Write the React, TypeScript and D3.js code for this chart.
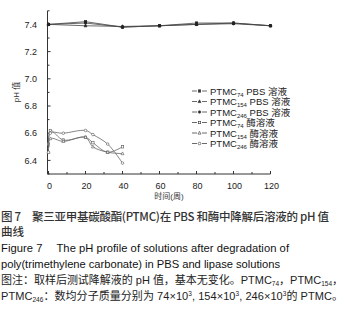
import React from "react";
import * as d3 from "d3";

const pbsWeeks = [0, 20, 40, 60, 80, 100, 120];
const pbs74 = [7.4, 7.42, 7.38, 7.39, 7.41, 7.41, 7.39];
const pbs154 = [7.4, 7.39, 7.385, 7.39, 7.4, 7.41, 7.39];
const pbs246 = [7.4, 7.41, 7.38, 7.39, 7.4, 7.405, 7.39];

const enzWeeks = [0, 1, 8, 20, 24, 32, 40];
const enz74 = [6.52, 6.62, 6.55, 6.57, 6.53, 6.46, 6.5];
const enz154 = [6.46, 6.56, 6.54, 6.57, 6.5, 6.46, 6.45];
const enz246 = [6.46, 6.6, 6.6, 6.62, 6.59, 6.52, 6.38];

const yTickLabels = ["6.4", "6.6", "6.8", "7.0", "7.2", "7.4"];
const xTickLabels = ["0", "20", "40", "60", "80", "100", "120"];

const legendItems = [
  { sub: "74", suffix: " PBS 溶液", marker: "sq", fill: true },
  { sub: "154", suffix: " PBS 溶液", marker: "tri", fill: true },
  { sub: "246", suffix: " PBS 溶液", marker: "circ", fill: true },
  { sub: "74", suffix: " 酶溶液", marker: "sq", fill: false },
  { sub: "154", suffix: " 酶溶液", marker: "tri", fill: false },
  { sub: "246", suffix: " 酶溶液", marker: "circ", fill: false },
];

const LAT = "'Liberation Sans', Arial, sans-serif";
const CJK = "'Liberation Sans', 'Noto Sans CJK SC', sans-serif";

function Marker({ type, x, y, fill, color }: any) {
  const f = fill ? color : "#fff";
  if (type === "sq") return <rect x={x - 1.2} y={y - 1.2} width={2.4} height={2.4} fill={f} stroke={color} strokeWidth={0.6} />;
  if (type === "tri") return <path d={`M${x},${y - 1.7}L${x + 1.5},${y + 1.1}L${x - 1.5},${y + 1.1}Z`} fill={f} stroke={color} strokeWidth={0.6} />;
  return <circle cx={x} cy={y} r={1.3} fill={f} stroke={color} strokeWidth={0.6} />;
}

export default function App() {
  const x = d3.scaleLinear().domain([0, 120]).range([48.5, 270.5]);
  const y = d3.scaleLinear().domain([6.3, 7.5]).range([174, 10.8]);
  const axisColor = "#333";

  const straight = d3.line<[number, number]>().x((d) => x(d[0])).y((d) => y(d[1]));
  const smooth = d3
    .line<[number, number]>()
    .x((d) => x(d[0]))
    .y((d) => y(d[1]))
    .curve(d3.curveCatmullRom.alpha(0.5));

  const pbsSeries = [
    { v: pbs74, m: "sq" },
    { v: pbs154, m: "tri" },
    { v: pbs246, m: "circ" },
  ];
  const enzSeries = [
    { v: enz74, m: "sq" },
    { v: enz154, m: "tri" },
    { v: enz246, m: "circ" },
  ];

  const xMinor = d3.range(0, 121, 10);
  const yMinor = d3.range(6.3, 7.51, 0.1);

  const captionLines = [
    { t: "图 7　聚三亚甲基碳酸酯(PTMC)在 PBS 和酶中降解后溶液的 pH 值", y: 221, size: 11.5, w: 500, fam: "'Noto Sans CJK SC', sans-serif", len: 328, fill: "#333" },
    { t: "曲线", y: 236, size: 11.5, w: 500, fam: "'Noto Sans CJK SC', sans-serif", len: 0, fill: "#333" },
    { t: "Figure 7　 The pH profile of solutions after degradation of", y: 252, size: 11.2, w: 400, fam: LAT, len: 288, fill: "#111" },
    { t: "poly(trimethylene carbonate) in PBS and lipase solutions", y: 268, size: 11.2, w: 400, fam: LAT, len: 279, fill: "#111" },
  ];

  return (
    <svg width={348} height={318} style={{ position: "absolute", left: 0, top: 0, background: "#fff" }}>
      <rect width={348} height={318} fill="#fff" />
      {/* axes */}
      <line x1={x(0) - 1} x2={x(0) - 1} y1={y(7.5)} y2={y(6.3)} stroke={axisColor} strokeWidth={1} />
      <line x1={x(0) - 1} x2={x(120)} y1={y(6.3)} y2={y(6.3)} stroke={axisColor} strokeWidth={1} />
      {xMinor.map((v) => (
        <line key={"xt" + v} x1={x(v)} x2={x(v)} y1={y(6.3)} y2={y(6.3) - (v % 20 === 0 ? 3 : 2)} stroke={axisColor} strokeWidth={1} />
      ))}
      {yMinor.map((v, i) => (
        <line key={"yt" + i} x1={x(0) - 1} x2={x(0) + (i % 2 === 1 ? 2 : 1)} y1={y(v)} y2={y(v)} stroke={axisColor} strokeWidth={1} />
      ))}
      {yTickLabels.map((l) => (
        <text key={"yl" + l} x={37} y={y(+l) + 3.2} textAnchor="end" fontSize={9} fontFamily={LAT} fill="#222">
          {l}
        </text>
      ))}
      {xTickLabels.map((l) => (
        <text key={"xl" + l} x={x(+l) + 1} y={188.5} textAnchor="middle" fontSize={9} fontFamily={LAT} fill="#222">
          {l}
        </text>
      ))}
      <text x={169} y={199} textAnchor="middle" fontSize={8} fontFamily={CJK} fill="#333">
        时间(周)
      </text>
      <text transform="translate(19,92) rotate(-90)" textAnchor="middle" fontSize={8} fontFamily={CJK} fill="#333">
        pH 值
      </text>

      {/* PBS */}
      {pbsSeries.map((s, i) => (
        <g key={"p" + i}>
          <path d={straight(pbsWeeks.map((w, j) => [w, s.v[j]]) as any) || ""} fill="none" stroke="#444" strokeWidth={0.8} />
          {pbsWeeks.map((w, j) => (
            <Marker key={j} type={s.m} x={x(w)} y={y(s.v[j])} fill={true} color="#222" />
          ))}
        </g>
      ))}
      {/* enzyme */}
      {enzSeries.map((s, i) => (
        <g key={"e" + i}>
          <path d={smooth(enzWeeks.map((w, j) => [w, s.v[j]]) as any) || ""} fill="none" stroke="#666" strokeWidth={0.8} />
          {enzWeeks.map((w, j) => (
            <Marker key={j} type={s.m} x={x(w)} y={y(s.v[j])} fill={false} color="#555" />
          ))}
        </g>
      ))}

      {/* legend */}
      {legendItems.map((it, i) => {
        const ly = 91 + i * 10.5;
        return (
          <g key={"lg" + i}>
            <line x1={192} x2={197} y1={ly} y2={ly} stroke="#444" strokeWidth={0.8} />
            <line x1={202} x2={207} y1={ly} y2={ly} stroke="#444" strokeWidth={0.8} />
            <Marker type={it.marker} x={199.5} y={ly} fill={it.fill} color="#333" />
            <text x={210} y={ly + 3.5} fontSize={9.5} fontFamily={CJK} fill="#222">
              PTMC
              <tspan fontSize={6} dy={2}>{it.sub}</tspan>
              <tspan dy={-2}>{it.suffix}</tspan>
            </text>
          </g>
        );
      })}

      {/* caption */}
      {captionLines.map((c, i) => (
        <text
          key={"c" + i}
          x={1}
          y={c.y}
          fontSize={c.size}
          fontWeight={c.w}
          fontFamily={c.fam}
          fill={c.fill}
          {...(c.len ? { textLength: c.len, lengthAdjust: "spacing" } : {})}
        >
          {c.t}
        </text>
      ))}
      <text x={1} y={284} fontSize={11} fontFamily={CJK} fill="#222" textLength={342} lengthAdjust="spacing">
        图注：取样后测试降解液的 pH 值，基本无变化。PTMC
        <tspan fontSize={6.5} dy={2}>74</tspan>
        <tspan dy={-2}>，PTMC</tspan>
        <tspan fontSize={6.5} dy={2}>154</tspan>
        <tspan dy={-2}>，</tspan>
      </text>
      <text x={1} y={300} fontSize={11} fontFamily={CJK} fill="#222" textLength={342} lengthAdjust="spacing">
        PTMC
        <tspan fontSize={6.5} dy={2}>246</tspan>
        <tspan dy={-2}>：数均分子质量分别为 74×10</tspan>
        <tspan fontSize={6.5} dy={-4}>3</tspan>
        <tspan dy={4}>, 154×10</tspan>
        <tspan fontSize={6.5} dy={-4}>3</tspan>
        <tspan dy={4}>, 246×10</tspan>
        <tspan fontSize={6.5} dy={-4}>3</tspan>
        <tspan dy={4}>的 PTMC。</tspan>
      </text>
    </svg>
  );
}
